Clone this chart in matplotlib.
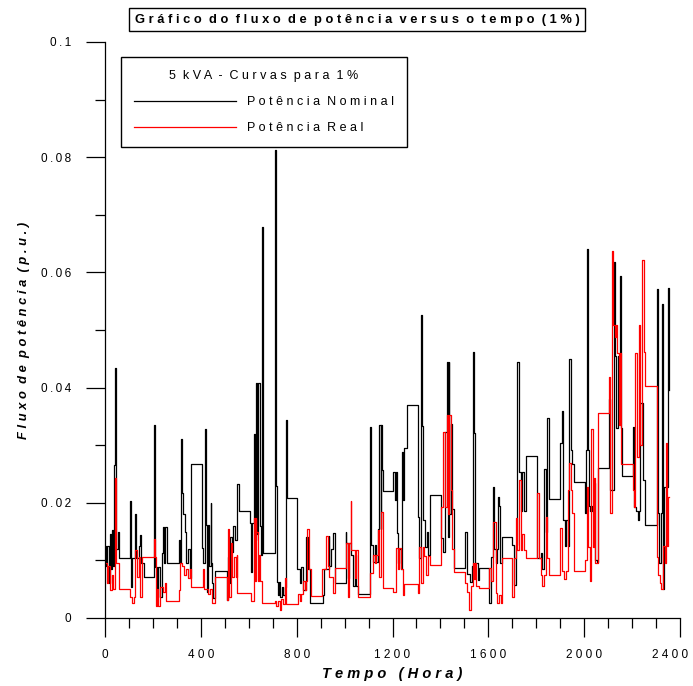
import matplotlib
matplotlib.use("Agg")
import matplotlib.pyplot as plt
import matplotlib.transforms as mtransforms
from matplotlib.ticker import MultipleLocator, FixedLocator
from matplotlib.lines import Line2D

plt.rcParams['font.family'] = ['Liberation Sans Narrow', 'Liberation Sans', 'DejaVu Sans']

# Potência Nominal: (hora, p.u.) pontos de mudança do degrau
nom_h = [0, 5, 10, 15, 21, 25, 30, 34, 38, 41, 44, 47, 50, 54, 57,
         105, 108, 112, 126, 129, 140, 146, 150, 161, 204, 208, 216, 222, 229,
         237, 243, 247, 250, 258, 307, 312, 318, 321, 327, 333, 340, 347, 354,
         356, 359, 404, 408, 417, 420, 425, 430, 435, 441, 444, 448, 452, 459,
         508, 512, 516, 521, 528, 535, 541, 552, 559, 605, 610, 614, 621, 625,
         632, 636, 639, 646, 650, 656, 660, 708, 711, 714, 716, 722, 726, 730,
         737, 744, 750, 754, 760, 803, 815, 820, 826, 840, 847, 854, 910, 916,
         933, 937, 944, 951, 958, 1004, 1007, 1014, 1020, 1028, 1035, 1042, 1049,
         1055, 1107, 1111, 1118, 1125, 1132, 1141, 1145, 1150, 1152, 1157, 1159,
         1204, 1210, 1215, 1218, 1222, 1229, 1236, 1240, 1245, 1249, 1259, 1305,
         1312, 1319, 1323, 1326, 1335, 1342, 1347, 1356, 1402, 1412, 1420, 1427,
         1431, 1434, 1437, 1444, 1450, 1457, 1503, 1510, 1513, 1524, 1530, 1536,
         1541, 1545, 1555, 1561, 1603, 1610, 1620, 1624, 1631, 1638, 1642, 1646,
         1649, 1655, 1700, 1707, 1714, 1721, 1728, 1735, 1742, 1749, 1756, 1804,
         1818, 1825, 1832, 1839, 1846, 1852, 1901, 1908, 1913, 1920, 1926, 1932,
         1936, 1943, 1950, 1957, 2002, 2008, 2013, 2016, 2019, 2026, 2033, 2040,
         2047, 2054, 2058, 2102, 2109, 2123, 2127, 2134, 2141, 2148, 2154, 2158,
         2202, 2209, 2216, 2224, 2230, 2234, 2245, 2255, 2303, 2307, 2314, 2321,
         2324, 2327, 2331, 2335, 2349, 2351, 2353, 2356]
nom_v = [.0125, .009, .0125, .006, .0145, .0085, .0153, .009, .0266, .0434, .0266, .012, .012, .015, .0104,
         .0203, .0054, .0104, .018, .0104, .0125, .0144, .0095, .0071, .0335, .0089, .0037, .0089, .0037,
         .0113, .0158, .0095, .0158, .0095, .0135, .0095, .031, .0217, .018, .015, .0095, .012, .0095,
         .007, .0267, .0122, .0095, .0328, .0161, .0045, .0161, .009, .02, .0095, .006, .0035, .0082,
         .0031, .0106, .006, .014, .0115, .016, .0135, .0233, .0186, .0165, .008, .0165, .032, .0135,
         .0408, .0145, .0408, .016, .011, .0678, .0113, .0229, .0812, .0229, .0062, .004, .0062, .0037,
         .0054, .004, .0054, .0344, .0208, .0085, .006, .0088, .0049, .014, .0085, .0026, .004, .0085,
         .0142, .009, .012, .0147, .0061, .015, .013, .007, .013, .011, .0055, .011, .0055,
         .0042, .0332, .0127, .0097, .0127, .0097, .0155, .0335, .0155, .0335, .0257, .022,
         .0253, .0205, .0253, .0147, .0095, .012, .0085, .0288, .0205, .0295, .037, .0175,
         .0105, .0526, .0333, .017, .0123, .015, .011, .0214, .0139, .0115, .0323, .0444,
         .014, .0444, .018, .0337, .019, .0087, .015, .0135, .0077, .0063, .009, .0462,
         .0321, .0095, .0066, .0087, .0026, .0106, .0227, .012, .0095, .012, .021, .0195,
         .0095, .0141, .0127, .0058, .0127, .0444, .0253, .0185, .0253, .0185, .0281, .0104,
         .0113, .0085, .0259, .015, .0347, .0207, .0304, .036, .017, .0125, .017, .0125,
         .045, .0292, .0268, .0236, .0182, .0292, .064, .0292, .0195, .0185, .0195, .0235,
         .0101, .0097, .026, .038, .0222, .0618, .0455, .033, .0455, .0594, .033, .0247,
         .0332, .0193, .0185, .017, .0185, .0373, .024, .0161, .0571, .0182, .0095, .0182,
         .0545, .007, .005, .0227, .0288, .0573, .0396, .0396]

# Potência Real
real_h = [0, 8, 14, 20, 28, 34, 40, 46, 57, 105, 112, 119, 126, 133, 140, 146, 155,
          204, 208, 213, 218, 223, 230, 240, 250, 255, 307, 312, 320, 330, 340, 347,
          354, 359, 408, 413, 430, 437, 445, 459, 510, 514, 518, 524, 531, 540, 546,
          549, 552, 611, 621, 626, 629, 632, 638, 643, 649, 656, 708, 715, 722, 729,
          736, 743, 750, 757, 805, 813, 819, 826, 833, 840, 844, 850, 861, 905, 923,
          930, 937, 950, 958, 1007, 1014, 1020, 1025, 1028, 1042, 1048, 1055, 1107,
          1118, 1125, 1132, 1139, 1145, 1152, 1159, 1204, 1215, 1222, 1229, 1236,
          1243, 1249, 1305, 1312, 1319, 1326, 1333, 1340, 1347, 1356, 1402, 1412,
          1420, 1427, 1433, 1437, 1444, 1450, 1457, 1503, 1510, 1520, 1527, 1536,
          1540, 1545, 1548, 1561, 1603, 1610, 1620, 1631, 1638, 1645, 1652, 1655,
          1700, 1707, 1714, 1721, 1728, 1735, 1742, 1749, 1756, 1804, 1811, 1818,
          1825, 1832, 1839, 1846, 1852, 1901, 1908, 1915, 1926, 1933, 1938, 1943,
          1950, 1957, 2002, 2010, 2016, 2023, 2030, 2036, 2040, 2047, 2056, 2102,
          2108, 2116, 2120, 2127, 2134, 2137, 2144, 2151, 2154, 2202, 2210, 2213,
          2220, 2227, 2234, 2240, 2248, 2255, 2303, 2310, 2317, 2322, 2327, 2331,
          2336, 2340, 2345, 2349, 2356]
real_v = [.0095, .006, .009, .0049, .0075, .005, .0243, .0095, .005, .0036, .0026, .0036, .0118, .0071, .0106, .0037, .0106,
          .0137, .0106, .002, .005, .002, .0054, .0045, .006, .003, .0049, .0095, .009, .0075, .0085, .007,
          .0085, .0054, .0085, .005, .0042, .005, .0026, .0071, .0031, .0154, .0036, .013, .0071, .0106, .0071,
          .011, .0043, .0029, .0174, .0065, .0174, .015, .0065, .011, .0065, .0026, .003, .002, .003, .0014,
          .0033, .0024, .007, .0024, .0042, .003, .0042, .0065, .0049, .0065, .0154, .0085, .0038, .0085, .0142,
          .009, .0071, .0043, .0087, .013, .0036, .013, .0203, .0118, .007, .0118, .0036, .0078,
          .011, .0095, .011, .0153, .0071, .0184, .0052, .0045, .0121, .0085, .0121, .0085,
          .004, .0059, .0043, .0123, .006, .0123, .0107, .0075, .0107, .0092, .0193, .0323,
          .0193, .0352, .018, .0352, .0222, .012, .008, .006, .0045, .0014, .0055, .0095,
          .0068, .0095, .0055, .0052, .0087, .0065, .0167, .0043, .0026, .004, .0026, .0104,
          .0037, .0104, .0174, .0118, .024, .0118, .0145, .0118, .0104, .0217, .0104, .0075,
          .0055, .0075, .0176, .0104, .0075, .0157, .0082, .0068, .0082, .0222, .0269, .0222,
          .0182, .0082, .01, .0227, .0123, .0065, .0328, .0123, .0243, .0095, .0356, .0418,
          .0182, .0637, .0509, .0488, .0509, .046, .0335, .046, .0267, .0222, .0193, .046,
          .028, .0509, .03, .0621, .0462, .0403, .0106, .0075, .006, .005, .006, .0125,
          .0095, .0304, .0125, .021, .021]

x_ticks = [0, 400, 800, 1200, 1600, 2000, 2400]
y_ticks = [0, 0.02, 0.04, 0.06, 0.08, 0.1]
y_tick_labels = ['0', '0.02', '0.04', '0.06', '0.08', '0.1']


def sp(s, gap='  ', sep=' '):
    # texto espaçado letra a letra
    return gap.join(sep.join(w) for w in s.split())


fig = plt.figure(figsize=(6.93, 6.86), dpi=100)
ax = fig.add_axes([105 / 693, 1 - 618 / 686, 575 / 693, 576 / 686])

ax.step(nom_h, nom_v, where='post', color='black', lw=0.9)
ax.step(real_h, real_v, where='post', color='red', lw=0.9)

ax.set_xlim(0, 2400)
ax.set_ylim(0, 0.1)
for side in ('top', 'right'):
    ax.spines[side].set_visible(False)
ax.spines['left'].set_linewidth(0.9)
ax.spines['bottom'].set_linewidth(0.9)

ax.xaxis.set_major_locator(FixedLocator(x_ticks))
ax.xaxis.set_minor_locator(MultipleLocator(100))
ax.yaxis.set_major_locator(FixedLocator(y_ticks))
ax.yaxis.set_minor_locator(MultipleLocator(0.01))
ax.set_xticklabels([sp(str(t)) for t in x_ticks], fontsize=8.5)
ax.set_yticklabels([sp(t, sep='\u2009') for t in y_tick_labels], fontsize=8.5)
ax.tick_params(which='major', direction='out', length=13.5, width=0.9, pad=9)
ax.tick_params(which='minor', direction='out', length=7, width=0.9)
ax.tick_params(axis='y', which='major', pad=11)

# o último rótulo (2400) encosta na borda; puxa um pouco para dentro
last = ax.get_xticklabels()[-1]
last.set_transform(last.get_transform() +
                   mtransforms.ScaledTranslation(-10 / 100, 0, fig.dpi_scale_trans))

ax.set_xlabel(sp('Tempo (Hora)', gap='   '), fontsize=10.5, fontweight='bold',
              style='italic', labelpad=4)
ax.set_ylabel(sp('Fluxo de potência (p.u.)'), fontsize=9.3, fontweight='bold',
              style='italic', labelpad=8)

fig.text(357 / 693, 1 - 19.5 / 686, sp('Gráfico do fluxo de potência versus o tempo (1%)'),
         ha='center', va='center', fontsize=9.3, fontweight='bold',
         bbox=dict(boxstyle='square,pad=0.42', fc='white', ec='black', lw=1))

handles = [Line2D([], [], color='black', lw=0.9), Line2D([], [], color='red', lw=0.9)]
labels = [sp('Potência Nominal'), sp('Potência Real')]
leg = ax.legend(handles, labels, title=sp('5 kVA - Curvas para 1%'),
                loc='upper left', bbox_to_anchor=(121 / 693, 1 - 57 / 686),
                bbox_transform=fig.transFigure, borderaxespad=0,
                fontsize=9, title_fontsize=9,
                handlelength=8.2, handletextpad=0.9, borderpad=1.0, labelspacing=1.15,
                fancybox=False, framealpha=1, edgecolor='black')
leg.get_frame().set_linewidth(1)

fig.savefig('out.png', dpi=100)
